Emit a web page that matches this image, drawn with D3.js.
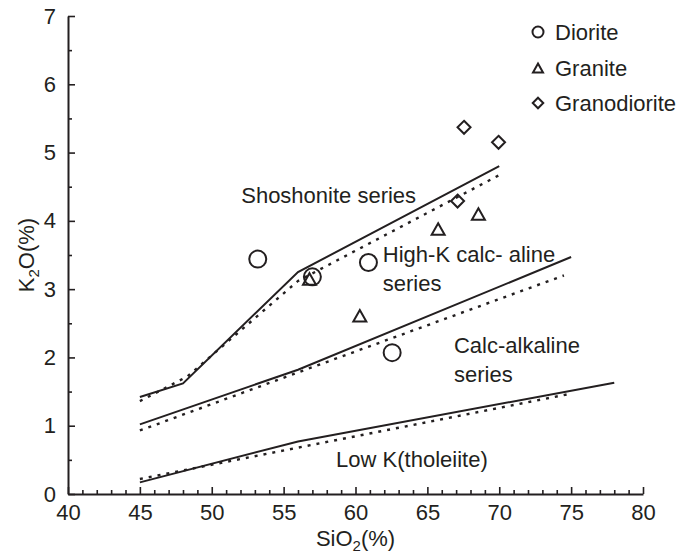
<!DOCTYPE html>
<html>
<head>
<meta charset="utf-8">
<script src="https://cdn.jsdelivr.net/npm/d3@7"></script>
<style>
  html, body { margin: 0; padding: 0; background: #fff; }
  svg text { font-family: "Liberation Sans", Arial, Helvetica, sans-serif; fill: #231f20; }
</style>
</head>
<body>
<svg id="chart" width="676" height="556"></svg>
<script>
// Axis ticks
const xMajorTicks = [40, 45, 50, 55, 60, 65, 70, 75, 80];
const yMajorTicks = [0, 1, 2, 3, 4, 5, 6, 7];

// Series boundaries (SiO2, K2O), solid set
const shoshoniteBoundary = [[45, 1.42], [48, 1.62], [56, 3.25], [70, 4.8]];
const highKBoundary = [[45, 1.02], [56, 1.82], [75, 3.47]];
const lowKBoundary = [[45, 0.17], [56, 0.77], [78, 1.63]];

// Series boundaries, dotted set
const shoshoniteBoundaryAlt = [[45, 1.36], [48.3, 1.72], [56, 3.12], [70, 4.67]];
const highKBoundaryAlt = [[45, 0.93], [56, 1.78], [74.5, 3.2]];
const lowKBoundaryAlt = [[45, 0.22], [75, 1.47]];

// Samples (SiO2 %, K2O %)
const diorite = [[53.2, 3.44], [57.0, 3.18], [60.9, 3.39], [62.55, 2.07]];
const granite = [[56.8, 3.15], [60.3, 2.61], [65.75, 3.88], [68.55, 4.1]];
const granodiorite = [[67.1, 4.29], [67.55, 5.37], [69.95, 5.15]];

const legendNames = ["Diorite", "Granite", "Granodiorite"];
const fieldLabels = [
  { lines: ["Shoshonite series"], at: [52.05, 4.26] },
  { lines: ["High-K calc- aline", "series"], at: [61.9, 3.4] },
  { lines: ["Calc-alkaline", "series"], at: [66.85, 2.07] },
  { lines: ["Low K(tholeiite)"], at: [58.65, 0.4] }
];

const ink = "#231f20";
const svg = d3.select("#chart");

const x = d3.scaleLinear().domain([40, 80]).range([68, 643]);
const y = d3.scaleLinear().domain([0, 7]).range([494, 16]);

// Minor ticks
const xMinor = d3.range(40, 80.001, 1).filter(v => !xMajorTicks.includes(v));
const yMinor = d3.range(0, 7.001, 0.5).filter(v => !yMajorTicks.includes(v));

function styleAxis(g) {
  g.selectAll("path.domain").attr("stroke", ink).attr("stroke-width", 2);
  g.selectAll(".tick line").attr("stroke", ink).attr("stroke-width", 1.6);
  g.selectAll(".tick text").attr("font-size", 22).attr("fill", ink)
    .style("font-family", '"Liberation Sans", Arial, sans-serif');
}

// x axis: ticks point inward
svg.append("g").attr("transform", `translate(0,${y(0)})`)
  .call(d3.axisBottom(x).tickValues(xMinor).tickSize(-4).tickSizeOuter(0).tickFormat(""))
  .call(g => g.select("path.domain").remove())
  .call(styleAxis);
svg.append("g").attr("transform", `translate(0,${y(0)})`)
  .call(d3.axisBottom(x).tickValues(xMajorTicks).tickSize(-7).tickSizeOuter(0).tickPadding(10).tickFormat(d3.format("d")))
  .call(styleAxis);

// y axis
svg.append("g").attr("transform", `translate(${x(40)},0)`)
  .call(d3.axisLeft(y).tickValues(yMinor).tickSize(-4).tickSizeOuter(0).tickFormat(""))
  .call(g => g.select("path.domain").remove())
  .call(styleAxis);
svg.append("g").attr("transform", `translate(${x(40)},0)`)
  .call(d3.axisLeft(y).tickValues(yMajorTicks).tickSize(-7).tickSizeOuter(0).tickPadding(12).tickFormat(d3.format("d")))
  .call(styleAxis);

// Axis titles with subscript
const xTitle = svg.append("text").attr("x", x(60)).attr("y", 546)
  .attr("text-anchor", "middle").attr("font-size", 22);
xTitle.append("tspan").text("SiO");
xTitle.append("tspan").text("2").attr("font-size", 15).attr("dy", 5);
xTitle.append("tspan").text("(%)").attr("dy", -5);

const yTitle = svg.append("text")
  .attr("transform", `translate(34,${(y(0) + y(7)) / 2}) rotate(-90)`)
  .attr("text-anchor", "middle").attr("font-size", 22);
yTitle.append("tspan").text("K");
yTitle.append("tspan").text("2").attr("font-size", 15).attr("dy", 5);
yTitle.append("tspan").text("O(%)").attr("dy", -5);

// Boundary lines
const line = d3.line().x(d => x(d[0])).y(d => y(d[1]));
[shoshoniteBoundary, highKBoundary, lowKBoundary].forEach(pts => {
  svg.append("path").attr("d", line(pts)).attr("fill", "none")
    .attr("stroke", ink).attr("stroke-width", 2).attr("stroke-linejoin", "miter");
});
[shoshoniteBoundaryAlt, highKBoundaryAlt, lowKBoundaryAlt].forEach(pts => {
  svg.append("path").attr("d", line(pts)).attr("fill", "none")
    .attr("stroke", ink).attr("stroke-width", 2.4).attr("stroke-dasharray", "3,6");
});

// Marker shapes
const shapes = {
  circle: r => `M${-r},0A${r},${r} 0 1,0 ${r},0A${r},${r} 0 1,0 ${-r},0Z`,
  triangle: (w, h) => `M0,${-h / 2}L${w / 2},${h / 2}L${-w / 2},${h / 2}Z`,
  diamond: (w) => `M0,${-w / 2}L${w / 2},0L0,${w / 2}L${-w / 2},0Z`
};
function drawMarkers(data, d) {
  svg.append("g").selectAll("path").data(data).join("path")
    .attr("transform", p => `translate(${x(p[0])},${y(p[1])})`)
    .attr("d", d).attr("fill", "none").attr("stroke", ink).attr("stroke-width", 2);
}
drawMarkers(diorite, shapes.circle(8.5));
drawMarkers(granite, shapes.triangle(13, 11.5));
drawMarkers(granodiorite, shapes.diamond(13));

// Field labels
fieldLabels.forEach(lab => {
  const t = svg.append("text").attr("x", x(lab.at[0])).attr("y", y(lab.at[1])).attr("font-size", 22);
  lab.lines.forEach((s, i) => {
    t.append("tspan").attr("x", x(lab.at[0])).attr("dy", i === 0 ? 0 : 29.5).text(s);
  });
});

// Legend
const legendShapes = [shapes.circle(5.5), shapes.triangle(10, 9), shapes.diamond(10.5)];
const legendRows = [32, 68, 103];
const legend = svg.append("g");
legendNames.forEach((name, i) => {
  legend.append("path").attr("transform", `translate(538,${legendRows[i]})`)
    .attr("d", legendShapes[i]).attr("fill", "none").attr("stroke", ink).attr("stroke-width", 2);
  legend.append("text").attr("x", 555).attr("y", legendRows[i] + 7.5)
    .attr("font-size", 22).text(name);
});
</script>
</body>
</html>
